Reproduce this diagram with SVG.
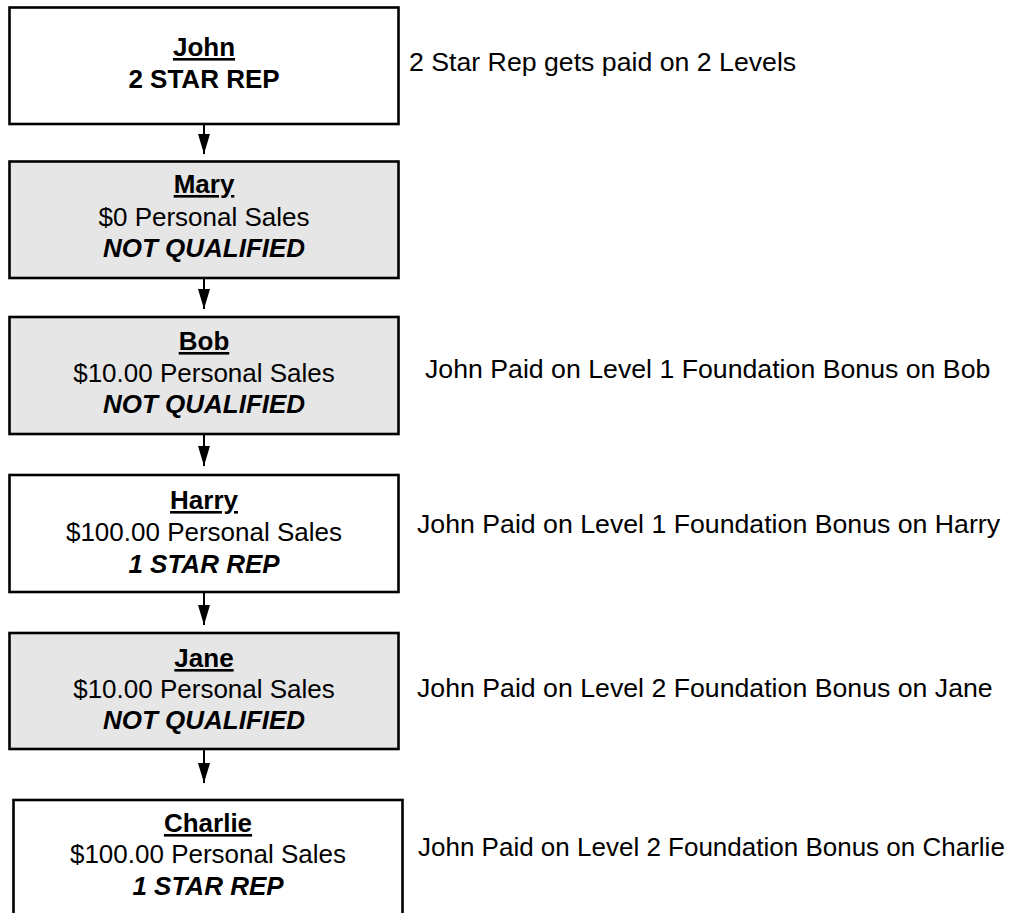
<svg xmlns="http://www.w3.org/2000/svg" width="1028" height="913" viewBox="0 0 1028 913">
<style>
.box{stroke:#000;stroke-width:2.6}
.w{fill:#fff}
.g{fill:#e6e6e6}
text{font-family:"Liberation Sans",Arial,sans-serif;font-size:26px;fill:#000}
.c{text-anchor:middle}
.name{font-weight:bold;text-decoration:underline}
.b{font-weight:bold}
.bi{font-weight:bold;font-style:italic}
.note{font-size:26.7px}
.conn{stroke:#000;stroke-width:2;fill:none}
</style>
<defs>
<marker id="ah" viewBox="0 0 20 12" markerWidth="20" markerHeight="12" refX="20" refY="6" orient="auto" markerUnits="userSpaceOnUse">
<path d="M0,0 L20,6 L0,12 z" fill="#000"/>
</marker>
</defs>
<rect width="1028" height="913" fill="#fff"/>
<g id="connectors">
<line class="conn" x1="204" y1="124" x2="204" y2="154" marker-end="url(#ah)"/>
<line class="conn" x1="204" y1="278" x2="204" y2="309" marker-end="url(#ah)"/>
<line class="conn" x1="204" y1="434" x2="204" y2="466" marker-end="url(#ah)"/>
<line class="conn" x1="204" y1="592" x2="204" y2="625" marker-end="url(#ah)"/>
<line class="conn" x1="204" y1="749" x2="204" y2="783" marker-end="url(#ah)"/>
</g>
<g id="john">
<rect class="box w" x="9.5" y="7.5" width="389" height="116.5"/>
<text class="c name" x="204" y="56">John</text>
<text class="c b" x="204" y="88">2 STAR REP</text>
</g>
<g id="mary">
<rect class="box g" x="9.5" y="161.5" width="389" height="116.5"/>
<text class="c name" x="204" y="193">Mary</text>
<text class="c" x="204" y="226">$0 Personal Sales</text>
<text class="c bi" x="204" y="257">NOT QUALIFIED</text>
</g>
<g id="bob">
<rect class="box g" x="9.5" y="317" width="389" height="117"/>
<text class="c name" x="204" y="350">Bob</text>
<text class="c" x="204" y="382">$10.00 Personal Sales</text>
<text class="c bi" x="204" y="413">NOT QUALIFIED</text>
</g>
<g id="harry">
<rect class="box w" x="9.5" y="475" width="389" height="117"/>
<text class="c name" x="204" y="509">Harry</text>
<text class="c" x="204" y="541">$100.00 Personal Sales</text>
<text class="c bi" x="204" y="573">1 STAR REP</text>
</g>
<g id="jane">
<rect class="box g" x="9.5" y="633" width="389" height="116"/>
<text class="c name" x="204" y="667">Jane</text>
<text class="c" x="204" y="698">$10.00 Personal Sales</text>
<text class="c bi" x="204" y="729">NOT QUALIFIED</text>
</g>
<g id="charlie">
<rect class="box w" x="13.5" y="800" width="389" height="150"/>
<text class="c name" x="208" y="832">Charlie</text>
<text class="c" x="208" y="863">$100.00 Personal Sales</text>
<text class="c bi" x="208" y="895">1 STAR REP</text>
</g>
<g id="notes">
<text class="note" x="409" y="71">2 Star Rep gets paid on 2 Levels</text>
<text class="note" x="425" y="378">John Paid on Level 1 Foundation Bonus on Bob</text>
<text class="note" x="417" y="533">John Paid on Level 1 Foundation Bonus on Harry</text>
<text class="note" x="417" y="697">John Paid on Level 2 Foundation Bonus on Jane</text>
<text x="418" y="856">John Paid on Level 2 Foundation Bonus on Charlie</text>
</g>
</svg>
